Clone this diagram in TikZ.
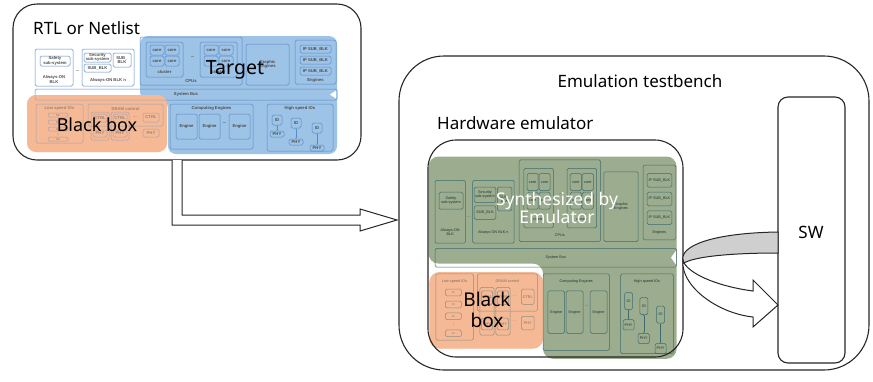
\documentclass[tikz,border=0pt]{standalone}
\usepackage{fontspec}
\setmainfont{Noto Sans}
\newfontfamily\blkfont{Liberation Sans}
\usetikzlibrary{arrows.meta}

\definecolor{targetblue}{HTML}{9DC3E6}
\definecolor{boxorange}{HTML}{F5B995}
\definecolor{emugreen}{HTML}{9BAD8E}
\definecolor{lineblue}{HTML}{5A8AC6}
\definecolor{lineteal}{HTML}{3E6B6E}
\definecolor{ribbongray}{HTML}{CFCFCF}

% SoC block diagram, drawn in its own coordinates
\newcommand{\socblocks}{%
  % always-on domain
  \draw[block] (35,49) rectangle (73,86);
  \draw[block] (40,56) rectangle (70,66);
  \node[tiny label] (safety) at (55,61) {Safety\\sub-system};
  \node[tiny label] (aon) at (54,79.5) {Always-ON\\BLK};
  \node[tiny label] (aon dots) at (77.5,71) {...};
  \draw[block] (82,49) rectangle (134,86);
  \draw[block] (84,53) rectangle (111,62);
  \draw[block] (84,64) rectangle (111,72);
  \draw[block] (113,53) rectangle (131,67);
  \node[tiny label] (security) at (97.5,57.5) {Security\\sub-system};
  \node[tiny label] (sub a) at (97.5,68) {SUB\_BLK};
  \node[tiny label] (sub b) at (122,60) {SUB\_\\BLK};
  \node[tiny label] (aon n) at (108,80) {Always-ON BLK n};
  % CPUs
  \draw[block] (140,37) rectangle (242,85);
  \foreach \cx [count=\c] in {146,200}{
    \draw[block] (\cx,42) rectangle ++(37,35);
    \foreach \dx/\dy [count=\k] in {4/3,19/3,4/14,19/14}{
      \draw[block] (\cx+\dx,42+\dy) rectangle ++(14,10);
      \node[tiny label] (core \c-\k) at (\cx+\dx+7,47+\dy) {core};
    }
    \node[tiny label] (cluster \c) at (\cx+18.5,72) {cluster};
  }
  \node[tiny label] (cpu dots) at (192.5,57) {...};
  \node[tiny label] (cpus) at (191,81.5) {CPUs};
  % graphics and IP engines
  \draw[block] (246,44) rectangle (289,85);
  \node[tiny label] (gfx) at (267.5,64.5) {Graphic\\Engines};
  \draw[block] (295,40) rectangle (336,84);
  \foreach \y [count=\k] in {45,56,67}{
    \draw[block] (300,\y) rectangle ++(31,8);
    \node[tiny label] (ip \k) at (315.5,\y+4) {IP SUB\_BLK};
  }
  \node[tiny label] (engines) at (315.5,80) {Engines};
  % system bus
  \draw[block] (35,89) rectangle (337,100);
  \node[tiny label] (bus) at (186,94.5) {System Bus};
  \fill[white] (336,90.5) -- (330,94.5) -- (336,98.5) -- cycle;
  % low speed IOs
  \draw[block] (36,104) rectangle (83,143);
  \node[tiny label] (lsio) at (59.5,108.5) {Low speed IOs};
  \foreach \y [count=\k] in {113,120,127,137}{
    \draw[block] (48,\y) rectangle ++(20,4);
    \node[tiny label,scale=.7] (lsio \k) at (58,\y+2) {IO};
  }
  \node[tiny label,rotate=90] (lsio dots) at (58,133.5) {...};
  % DRAM control
  \draw[block] (88,104) rectangle (163,126);
  \node[tiny label] (dram) at (125.5,108.5) {DRAM control};
  \foreach \x [count=\k] in {91,111}{
    \draw[block] (\x,112) rectangle ++(18,28);
    \draw[block] (\x+2,114) rectangle ++(14,8);
    \draw[block] (\x+2,130) rectangle ++(14,7);
    \node[tiny label] (ctrl \k) at (\x+9,118) {CTRL};
    \node[tiny label] (phy \k) at (\x+9,133.5) {PHY};
  }
  \draw[block] (143,113) rectangle ++(16,9);
  \draw[block] (143,129) rectangle ++(16,8);
  \node[tiny label] (ctrl 3) at (151,117.5) {CTRL};
  \node[tiny label] (phy 3) at (151,133) {PHY};
  \node[tiny label] (ctrl dots) at (135,117) {...};
  \node[tiny label] (phy dots) at (135,132) {...};
  % computing engines
  \draw[block] (170,104) rectangle (253,149);
  \node[tiny label] (comp) at (211.5,108.5) {Computing Engines};
  \foreach \x [count=\k] in {176,199,229}{
    \draw[block] (\x,114) rectangle ++(21,25);
    \node[tiny label] (engine \k) at (\x+10.5,126.5) {Engine};
  }
  \node[tiny label] (engine dots) at (224.5,123) {...};
  % high speed IOs
  \draw[block] (267,104) rectangle (333,151);
  \node[tiny label] (hsio) at (300,108.5) {High speed IOs};
  \foreach \x/\y/\g [count=\k] in {277/115/6,296/118/11,317/123/12}{
    \draw[block] (\x-5,\y) rectangle ++(10,10);
    \draw[block] (\x-7,\y+10+\g) rectangle ++(14,6);
    \node[tiny label] (hio \k) at (\x,\y+5) {IO};
    \node[tiny label] (hphy \k) at (\x,\y+13+\g) {PHY};
    \coordinate (io end \k) at (\x,\y+10);
    \coordinate (phy end \k) at (\x,\y+10+\g);
    \draw[io link] (io end \k) -- (phy end \k);
  }
}

\begin{document}
\begin{tikzpicture}[x=1pt,y=-1pt,
    outer frame/.style={draw=black!85,line width=1.1pt,inner sep=0pt,outer sep=0pt},
    head text/.style={font=\fontsize{17}{20}\selectfont,inner sep=0pt},
    hollow arrow/.style={draw=black!85,line width=1pt,fill=white,line join=miter},
    ribbon back/.style={draw=black!85,line width=1pt,fill=ribbongray},
    ribbon front/.style={draw=black!85,line width=1pt,fill=white,line join=miter}]
\useasboundingbox (0,0) rectangle (873,381);

\node[outer frame,rounded corners=24pt,minimum width=348pt,minimum height=156pt] (rtl) at (187,82) {};
\node[head text,anchor=base west] (rtl title) at (33,34) {RTL or Netlist};

\begin{scope}[name prefix=rtl-,
    block/.style={draw=lineblue,line width=.5pt,rounded corners=1.5pt},
    tiny label/.style={font=\blkfont\bfseries\fontsize{4.2}{4.7}\selectfont,
      text=black!70,inner sep=0pt,align=center},
    io link/.style={lineblue,line width=.4pt,
      {Latex[length=1.3pt,width=1.3pt]}-{Latex[length=1.3pt,width=1.3pt]}}]
  \fill[targetblue,rounded corners=8pt] (140,36) -- (337,36) -- (337,154)
    -- (168,154) -- (168,100) -- (140,100) -- cycle;
  \fill[boxorange,rounded corners=9pt] (27,95) rectangle (167,152);
  \socblocks
  \fill[boxorange,fill opacity=.5,rounded corners=9pt] (27,95) rectangle (167,152);
  \node[font=\fontsize{19.5}{22}\selectfont,inner sep=0pt,anchor=base] (target) at (235,74) {Target};
  \node[font=\fontsize{18}{21}\selectfont,inner sep=0pt,anchor=base] (black box) at (97,131) {Black box};
\end{scope}

\draw[hollow arrow] (rtl.south -| 182,0) -- (182,215) -- (360,215) -- (360,209)
  -- (397,220) -- (360,231) -- (360,225) -- (172,225) -- (rtl.south -| 172,0);

\node[outer frame,rounded corners=45pt,minimum width=470pt,minimum height=314pt] (bench) at (634,213) {};
\node[head text,anchor=base] (bench title) at (640,87) {Emulation testbench};
\node[head text,anchor=base west] (emu title) at (437,129) {Hardware emulator};

\begin{scope}[name prefix=emu-,shift={(407,97)},xscale=.8,yscale=1.7,
    block/.style={draw=lineteal,line width=.5pt,rounded corners=1.5pt},
    tiny label/.style={font=\blkfont\fontsize{3.8}{4.3}\selectfont,
      text=lineteal!50!black,inner sep=0pt,align=center},
    io link/.style={lineteal,line width=.4pt,
      {Latex[length=1.3pt,width=1.3pt]}-{Latex[length=1.3pt,width=1.3pt]}}]
  \fill[emugreen,rounded corners=10pt] (27,35) -- (337,35) -- (337,154)
    -- (170,154) -- (170,98) -- (27,98) -- cycle;
  \fill[boxorange,rounded corners=10pt] (28,103) rectangle (170,148);
  \socblocks
  \fill[boxorange,fill opacity=.45,rounded corners=10pt] (28,103) rectangle (170,148);
\end{scope}

\node[outer frame,rounded corners=28pt,minimum width=255pt,minimum height=217pt] (emu) at (555.5,248.5) {};
\node[text=white,font=\fontsize{17.5}{17.5}\selectfont,inner sep=0pt,align=center] (synth) at (557,208) {Synthesized by\\Emulator};
\node[font=\fontsize{19}{21}\selectfont,inner sep=0pt,align=center] (emu black box) at (487,310) {Black\\box};

\node[outer frame,fill=white,rounded corners=10pt,minimum width=67pt,minimum height=266pt] (sw) at (811.5,230) {};
\node[head text] (sw label) at (811,232.5) {SW};

% loop from the emulator into the software side
\filldraw[ribbon back] (sw.west |- 0,232) .. controls (712,233) and (680,246) .. (emu.east |- 0,260)
  -- (684,263) .. controls (696,256) and (735,253) .. (sw.west |- 0,253) -- cycle;
\filldraw[ribbon front] (emu.east |- 0,260) .. controls (680,285) and (716,313) .. (753,317)
  -- (753,327) -- (sw.west |- 0,305) -- (753,280) -- (753,291)
  .. controls (722,287) and (692,276) .. (684,263) -- cycle;
\end{tikzpicture}
\end{document}
